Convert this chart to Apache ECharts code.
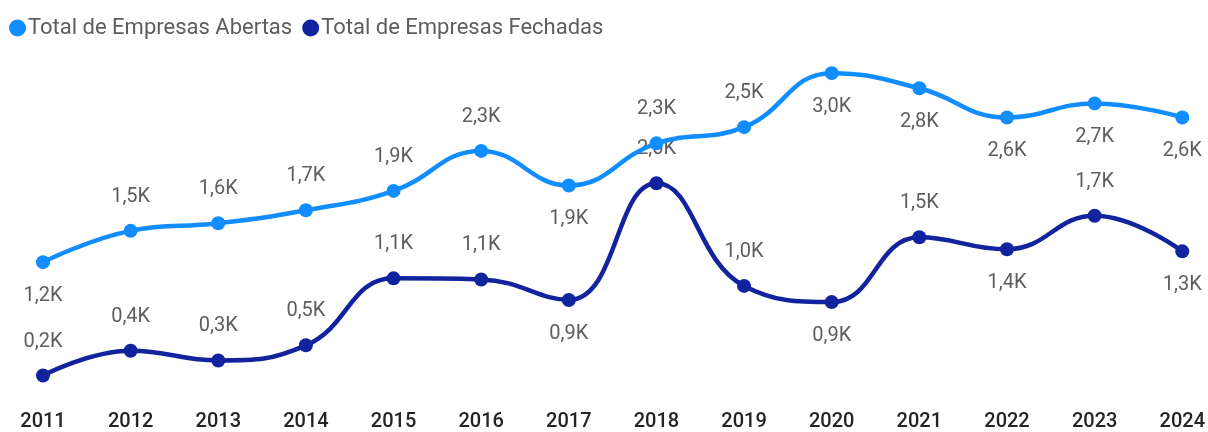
<!DOCTYPE html>
<html>
<head>
<meta charset="utf-8">
<script src="https://cdn.jsdelivr.net/npm/echarts@6/dist/echarts.min.js"></script>
<style>
html,body{margin:0;padding:0;background:#fff;}
#chart{width:1208px;height:432px;}
</style>
</head>
<body>
<div id="chart"></div>
<script>
const years = ['2011','2012','2013','2014','2015','2016','2017','2018','2019','2020','2021','2022','2023','2024'];
const abertas = [1230, 1520, 1590, 1710, 1890, 2260, 1940, 2330, 2480, 2980, 2840, 2570, 2700, 2570];
const fechadas = [180, 410, 320, 460, 1080, 1070, 880, 1960, 1010, 860, 1460, 1350, 1660, 1330];
const abertasLabelSide = ['bottom','top','top','top','top','top','bottom','top','top','bottom','bottom','bottom','bottom','bottom'];
const fechadasLabelSide = ['top','top','top','top','top','top','bottom','top','top','bottom','top','bottom','top','bottom'];
const seriesNames = ['Total de Empresas Abertas', 'Total de Empresas Fechadas'];

const FONT = 'Roboto, "DejaVu Sans", sans-serif';
function fmt(v){ return (v/1000).toFixed(1).replace('.', ',') + 'K'; }
function build(values, sides){
  return values.map((v,i)=>({value:v, label:{position:sides[i]}}));
}
const chart = echarts.init(document.getElementById('chart'));
chart.setOption({
  animation:false,
  backgroundColor:'#fff',
  color:['#118DFF','#12239E'],
  legend:{
    left:4, top:12,
    icon:'circle', itemWidth:17, itemHeight:17, itemGap:10,
    textStyle:{fontFamily:FONT, fontSize:22, color:'#605E5C', padding:[0,0,0,-3]},
    data:seriesNames
  },
  grid:{left:43, right:23, top:17, bottom:37, containLabel:false},
  xAxis:{
    type:'category', data:years, boundaryGap:false,
    axisLine:{show:false}, axisTick:{show:false}, splitLine:{show:false},
    axisLabel:{fontFamily:FONT, fontSize:20, fontWeight:500, color:'#252423', margin:17, interval:0}
  },
  yAxis:{type:'value', min:0, max:3500, show:false, splitLine:{show:false}},
  series:[
    {
      name:seriesNames[0], type:'line', smooth:0.45,
      data:build(abertas, abertasLabelSide),
      symbol:'circle', symbolSize:14,
      lineStyle:{width:4.5},
      label:{show:true, formatter:p=>fmt(p.value), fontFamily:FONT, fontSize:20, color:'#605E5C', distance:17},
      z:3
    },
    {
      name:seriesNames[1], type:'line', smooth:0.45,
      data:build(fechadas, fechadasLabelSide),
      symbol:'circle', symbolSize:14,
      lineStyle:{width:4.5},
      label:{show:true, formatter:p=>fmt(p.value), fontFamily:FONT, fontSize:20, color:'#605E5C', distance:17},
      z:2
    }
  ]
});
</script>
</body>
</html>
